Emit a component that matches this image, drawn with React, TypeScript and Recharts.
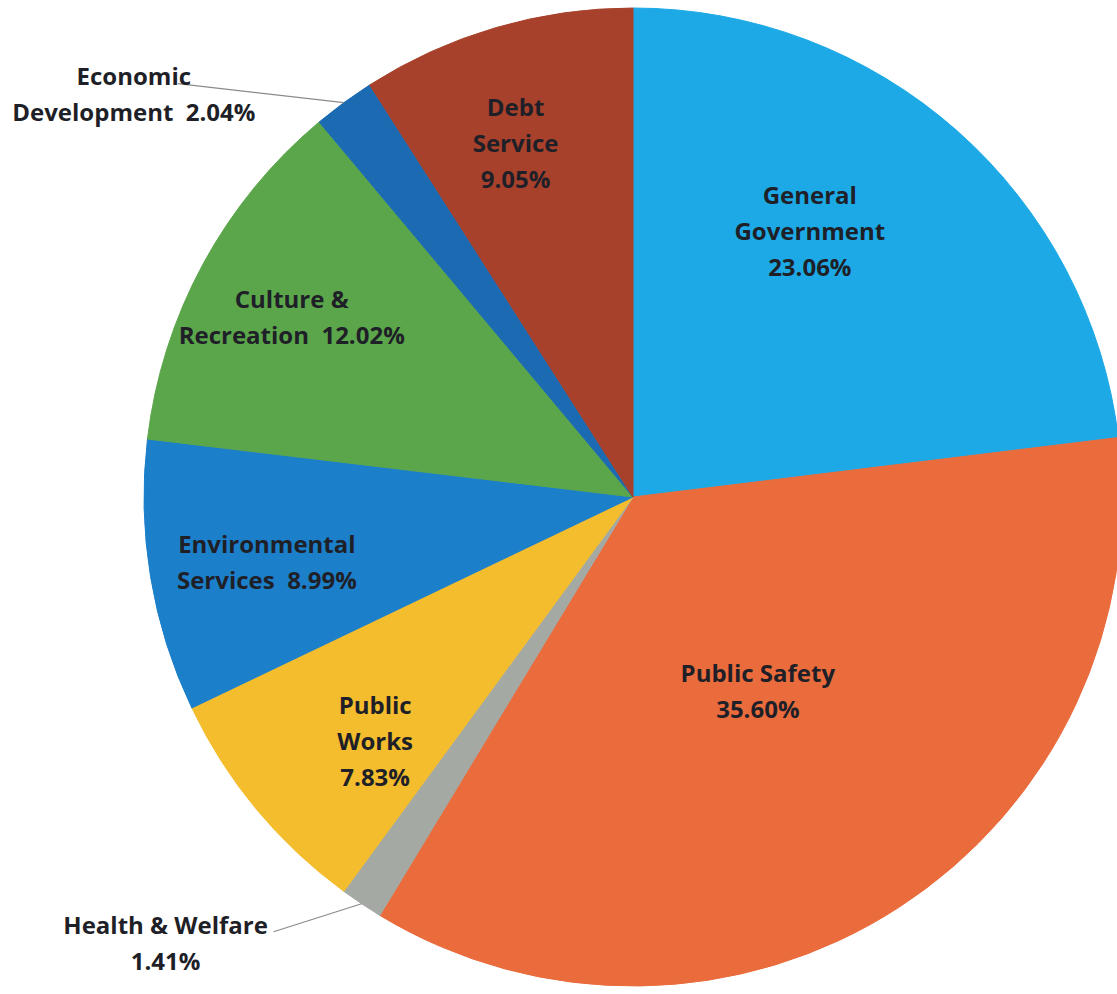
import { PieChart, Pie, Cell } from "recharts";

// spending by function, clockwise from 12 o'clock
const categories = [
  "General Government",
  "Public Safety",
  "Health & Welfare",
  "Public Works",
  "Environmental Services",
  "Culture & Recreation",
  "Economic Development",
  "Debt Service",
];
const shares = [23.06, 35.6, 1.41, 7.83, 8.99, 12.02, 2.04, 9.05];
const colors = [
  "#1CA9E6",
  "#EA6C3C",
  "#A4A9A3",
  "#F4BD2E",
  "#1C7FCA",
  "#5BA64B",
  "#1C6BB2",
  "#A8412B",
];

// how each label is broken into lines and where it sits
type Placement = {
  lines: string[];
  pctInline?: boolean; // percentage appended to last line
  r?: number; // fraction of radius, inside labels
  turn?: number; // degrees added to mid angle
  out?: [number, number]; // offset of text centre from slice edge point
  lineTo?: [number, number]; // leader line end relative to edge point
};

const placement: Record<string, Placement> = {
  "General Government": { lines: ["General", "Government"], r: 0.655, turn: 8 },
  "Public Safety": { lines: ["Public Safety"], r: 0.47, turn: 0 },
  "Health & Welfare": {
    lines: ["Health & Welfare"],
    out: [-196, 38],
    lineTo: [-88, 28],
  },
  "Public Works": { lines: ["Public", "Works"], r: 0.724, turn: 3.6 },
  "Environmental Services": {
    lines: ["Environmental", "Services"],
    pctInline: true,
    r: 0.76,
    turn: 0.5,
  },
  "Culture & Recreation": {
    lines: ["Culture &", "Recreation"],
    pctInline: true,
    r: 0.79,
    turn: 0.5,
  },
  "Economic Development": {
    lines: ["Economic", "Development"],
    pctInline: true,
    out: [-210, -10],
    lineTo: [-166, -19],
  },
  "Debt Service": { lines: ["Debt", "Service"], r: 0.765, turn: 2 },
};

const data = categories.map((name, i) => ({ name, value: shares[i] }));

const RADIAN = Math.PI / 180;
const LINE_H = 36;
const FONT = "'Open Sans', Lato, sans-serif";

function renderLabel(props: any) {
  const { cx, cy, midAngle, outerRadius, name, value } = props;
  const p = placement[name];
  const pct = `${Number(value).toFixed(2)}%`;
  const lines = p.pctInline
    ? [...p.lines.slice(0, -1), `${p.lines[p.lines.length - 1]}  ${pct}`]
    : [...p.lines, pct];

  let x: number;
  let y: number;
  let leader: JSX.Element | null = null;
  if (p.out) {
    const ex = cx + outerRadius * Math.cos(-midAngle * RADIAN);
    const ey = cy + outerRadius * Math.sin(-midAngle * RADIAN);
    x = ex + p.out[0];
    y = ey + p.out[1];
    if (p.lineTo) {
      leader = (
        <line
          x1={ex}
          y1={ey}
          x2={ex + p.lineTo[0]}
          y2={ey + p.lineTo[1]}
          stroke="#8a8a8a"
          strokeWidth={1.2}
        />
      );
    }
  } else {
    const a = (midAngle + (p.turn ?? 0)) * RADIAN;
    const r = outerRadius * (p.r ?? 0.6);
    x = cx + r * Math.cos(-a);
    y = cy + r * Math.sin(-a);
  }

  const top = y - ((lines.length - 1) * LINE_H) / 2;
  return (
    <g>
      {leader}
      <text
        x={x}
        y={top}
        textAnchor="middle"
        dominantBaseline="central"
        fill="#1f1f28"
        fontFamily={FONT}
        fontWeight={700}
        fontSize={24}
        style={{ whiteSpace: "pre" }}
      >
        {lines.map((ln, i) => (
          <tspan key={i} x={x} y={top + i * LINE_H}>
            {ln}
          </tspan>
        ))}
      </text>
    </g>
  );
}

export default function App() {
  return (
    <div
      style={{
        position: "absolute",
        left: 0,
        top: 0,
        width: 1117,
        height: 994,
        overflow: "hidden",
        background: "#fff",
      }}
    >
      <PieChart
        width={1117}
        height={994}
        margin={{ top: 0, right: 0, bottom: 0, left: 0 }}
      >
        <Pie
          data={data}
          dataKey="value"
          nameKey="name"
          cx={633}
          cy={497}
          outerRadius={489}
          startAngle={90}
          endAngle={-270}
          label={renderLabel}
          labelLine={false}
          isAnimationActive={false}
        >
          {data.map((d, i) => (
            <Cell key={d.name} fill={colors[i]} stroke={colors[i]} strokeWidth={1} />
          ))}
        </Pie>
      </PieChart>
    </div>
  );
}
